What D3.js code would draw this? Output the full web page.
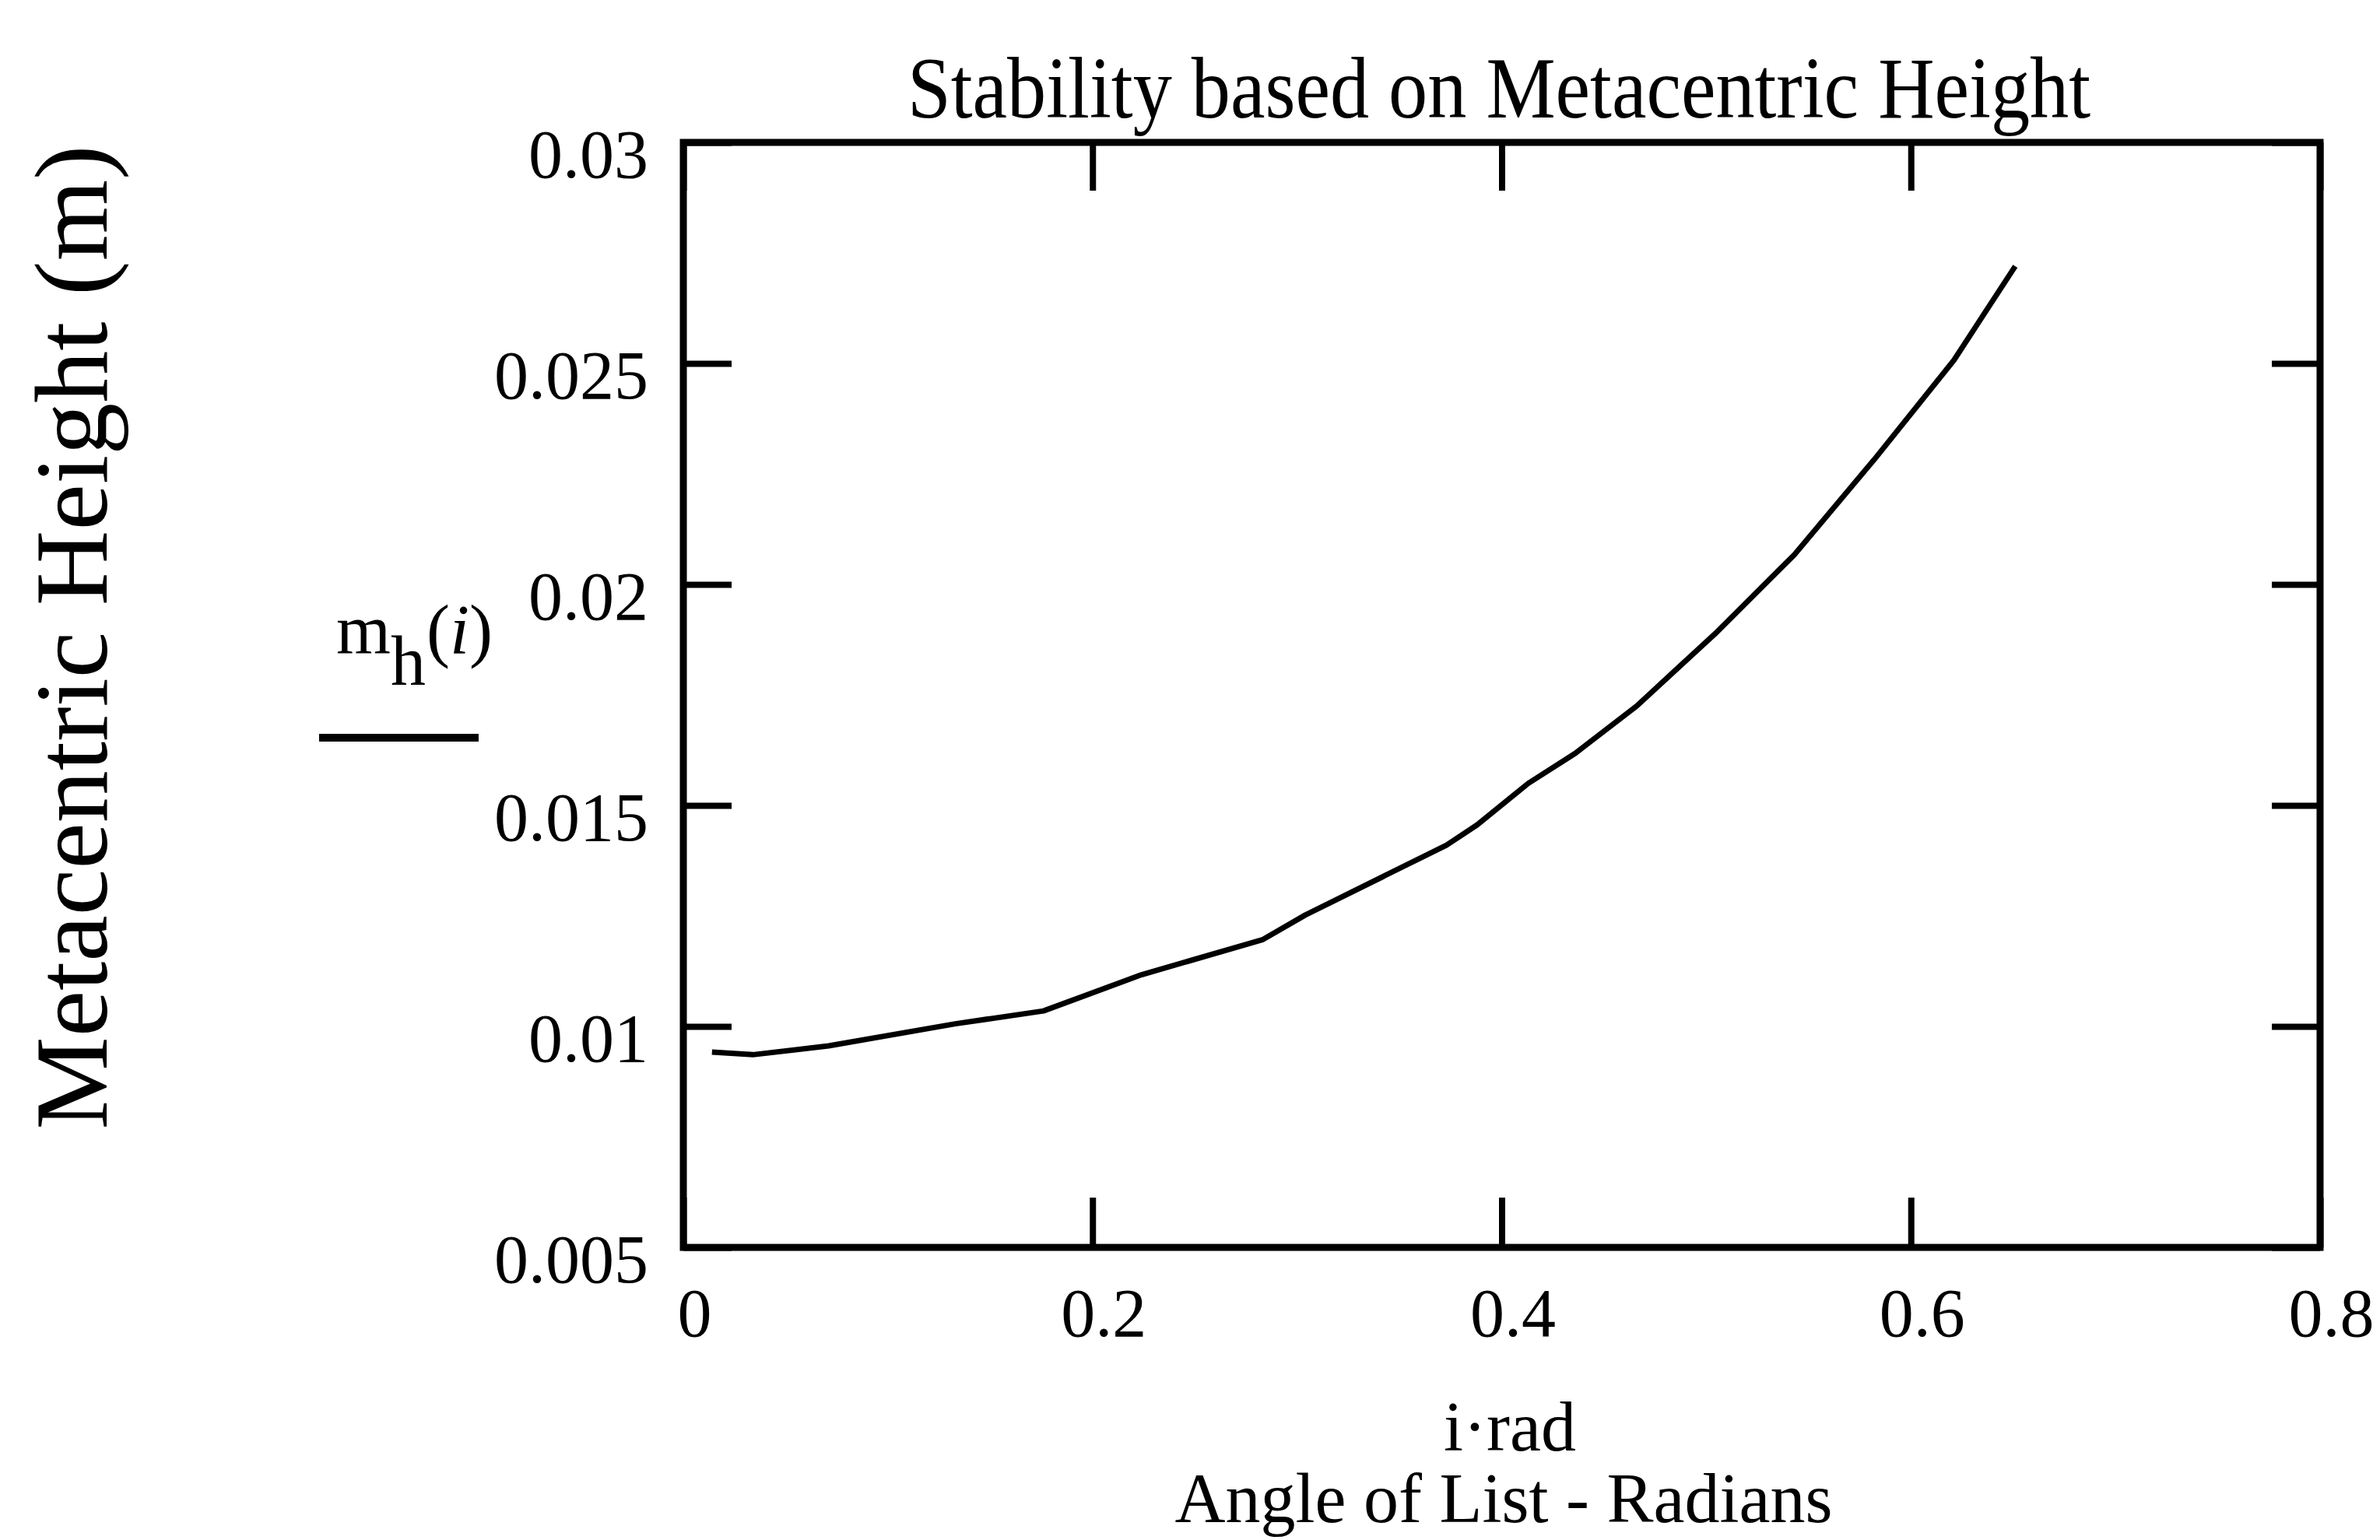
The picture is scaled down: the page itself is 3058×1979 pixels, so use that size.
<!DOCTYPE html>
<html>
<head>
<meta charset="utf-8">
<script src="https://cdn.jsdelivr.net/npm/d3@7"></script>
<style>
  body { margin: 0; background: #fff; }
  text { font-family: "Liberation Serif", "Times New Roman", serif; fill: #000; }
</style>
</head>
<body>
<div id="chart"></div>
<script>
// angle of list i (rad) and metacentric height m_h(i) (m)
const angle = [0.014, 0.034, 0.071, 0.133, 0.176, 0.224, 0.283, 0.304, 0.373, 0.388,
               0.413, 0.436, 0.466, 0.485, 0.504, 0.543, 0.582, 0.621, 0.651];
const height = [0.00942, 0.00936, 0.00956, 0.01006, 0.01035, 0.01117, 0.01196, 0.01252, 0.0141, 0.01456,
                0.0155, 0.01618, 0.01725, 0.01806, 0.01887, 0.02067, 0.02282, 0.02507, 0.0272];
const xTicks = [0, 0.2, 0.4, 0.6, 0.8];
const yTicks = [0.005, 0.01, 0.015, 0.02, 0.025, 0.03];

const W = 3058, H = 1979;
const margin = { top: 183, right: 77, bottom: 376, left: 878 };
const width = W - margin.left - margin.right,
    height_ = H - margin.top - margin.bottom;

const svg = d3.select("#chart").append("svg")
    .attr("width", W)
    .attr("height", H);

const g = svg.append("g")
    .attr("transform", "translate(" + margin.left + "," + margin.top + ")");

const x = d3.scaleLinear().domain([0, 0.8]).range([0, width]);
const y = d3.scaleLinear().domain([0.005, 0.03]).range([height_, 0]);

const fmt = d => String(d);

// bottom axis with labels, ticks pointing inward
const xAxisB = g.append("g")
    .attr("transform", "translate(0," + height_ + ")")
    .call(d3.axisBottom(x).tickValues(xTicks).tickSize(-64).tickFormat(fmt));
xAxisB.selectAll("text")
    .attr("y", 114).attr("dy", null).attr("dx", 14)
    .style("font-size", "88px");

// top axis, ticks only
g.append("g")
    .call(d3.axisTop(x).tickValues(xTicks).tickSize(-62).tickFormat(""));

// left axis with labels
const yAxisL = g.append("g")
    .call(d3.axisLeft(y).tickValues(yTicks).tickSize(-62).tickFormat(fmt));
yAxisL.selectAll("text")
    .attr("x", -45).attr("y", 44).attr("dy", null)
    .style("font-size", "88px");

// right axis, ticks only
g.append("g")
    .attr("transform", "translate(" + width + ",0)")
    .call(d3.axisRight(y).tickValues(yTicks).tickSize(-62).tickFormat(""));

g.selectAll(".domain").remove();
g.selectAll(".tick line").attr("stroke", "#000").attr("stroke-width", 8);

// frame
g.append("rect")
    .attr("x", 0).attr("y", 0)
    .attr("width", width).attr("height", height_)
    .attr("fill", "none")
    .attr("stroke", "#000")
    .attr("stroke-width", 9);

// curve
const pts = angle.map((a, i) => [a, height[i]]);
g.append("path")
    .datum(pts)
    .attr("fill", "none")
    .attr("stroke", "#000")
    .attr("stroke-width", 7)
    .attr("stroke-linejoin", "round")
    .attr("d", d3.line().x(d => x(d[0])).y(d => y(d[1])));

// title
svg.append("text")
    .attr("x", 1926).attr("y", 151)
    .attr("text-anchor", "middle")
    .attr("textLength", 1520)
    .attr("lengthAdjust", "spacingAndGlyphs")
    .style("font-size", "112px")
    .text("Stability based on Metacentric Height");

// y axis title
svg.append("text")
    .attr("transform", "translate(137,819) rotate(-90)")
    .attr("text-anchor", "middle")
    .style("font-size", "134px")
    .text("Metacentric Height (m)");

// trace label m_h(i) with its line sample
const lab = svg.append("text").style("font-size", "90px");
lab.append("tspan").attr("x", 432).attr("y", 840).text("m");
lab.append("tspan").attr("x", 502).attr("y", 880).text("h");
lab.append("tspan").attr("x", 548).attr("y", 840).text("(");
lab.append("tspan").style("font-style", "italic").text("i");
lab.append("tspan").text(")");

svg.append("line")
    .attr("x1", 410).attr("x2", 615)
    .attr("y1", 948).attr("y2", 948)
    .attr("stroke", "#000")
    .attr("stroke-width", 10);

// x axis titles
svg.append("text")
    .attr("x", 1940).attr("y", 1864)
    .attr("text-anchor", "middle")
    .style("font-size", "90px")
    .text("i\u00b7rad");

svg.append("text")
    .attr("x", 1932).attr("y", 1956)
    .attr("text-anchor", "middle")
    .style("font-size", "90px")
    .text("Angle of List - Radians");
</script>
</body>
</html>
